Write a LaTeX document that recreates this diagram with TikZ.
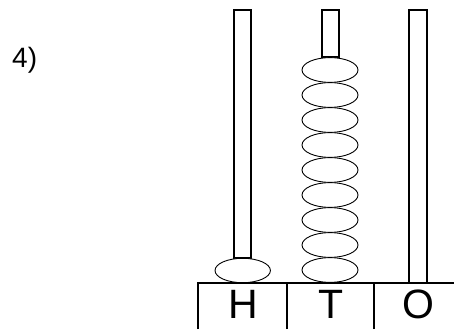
\documentclass[tikz,border=0pt]{standalone}
\usepackage{fontspec}
\setmainfont{Liberation Sans}
\usepackage{tikz}

\begin{document}
\begin{tikzpicture}[x=1pt,y=1pt]
        \useasboundingbox (0,0) rectangle (454,329);
        \node[anchor=base west,inner sep=0pt,font=\fontsize{28}{28}\selectfont] (num) at (12,261) {4)};
        % rods
        \draw[line width=2pt] (234,319) rectangle (251,71);
        \draw[line width=2pt] (322,319) rectangle (339,272);
        \draw[line width=2pt] (409,319) rectangle (427,46.5);
        % beads
        \draw[fill=white,line width=0.9pt] (242.7,58.5) ellipse (27.7 and 12.2);
        \foreach \k in {0,...,8}
            \draw[fill=white,line width=0.9pt] (330,259-25*\k) ellipse (28 and 12.4);
        % place value box
        \draw[line width=2pt] (198.3,0) -- (198.3,46.5) -- (454,46.5);
        \draw[line width=2pt] (286.7,0) -- (286.7,46.5);
        \draw[line width=2pt] (374.3,0) -- (374.3,46.5);
        \node[inner sep=0pt,font=\fontsize{41}{41}\selectfont] (hun) at (243,24.5) {H};
        \node[inner sep=0pt,font=\fontsize{41}{41}\selectfont] (ten) at (330.7,24.5) {T};
        \node[inner sep=0pt,font=\fontsize{41}{41}\selectfont] (one) at (418,24.5) {O};
    \end{tikzpicture}
\end{document}
